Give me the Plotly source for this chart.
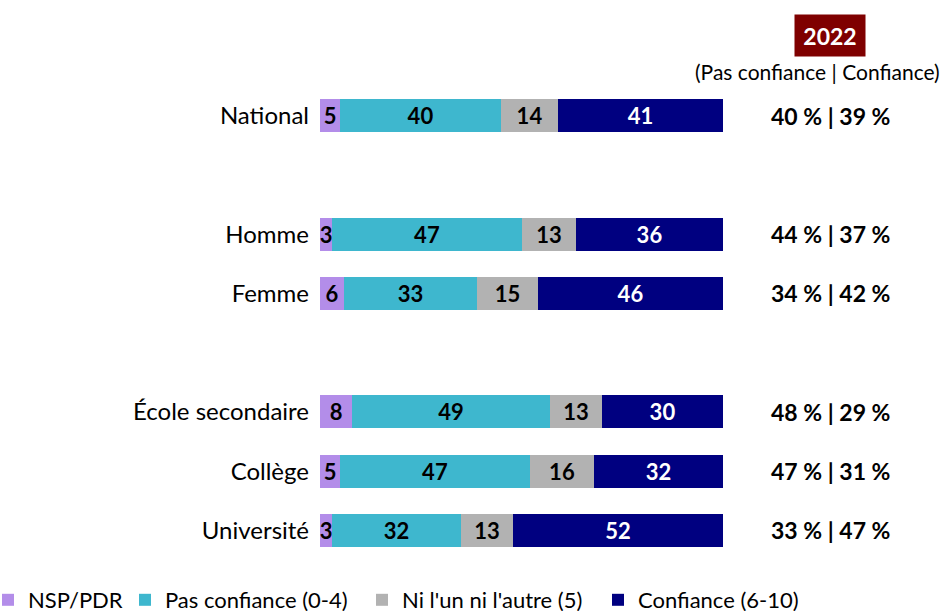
import plotly.graph_objects as go

categories = ["National", "Homme", "Femme", "École secondaire", "Collège", "Université"]
positions = [0, 2, 3, 5, 6, 7]
nsp = [5, 3.0, 6, 8, 5, 3]
pas_confiance = [40, 47.2, 33, 49, 47, 32]
ni = [14, 13.4, 15, 13, 16, 13]
confiance = [41, 36.4, 46, 30, 32, 52]
summary_pas = [40, 44, 34, 48, 47, 33]
summary_conf = [39, 37, 42, 29, 31, 47]

series = [
    ("NSP/PDR", nsp, "#B38DE9", "black"),
    ("Pas confiance (0-4)", pas_confiance, "#3EB7CE", "black"),
    ("Ni l'un ni l'autre (5)", ni, "#B2B2B2", "black"),
    ("Confiance (6-10)", confiance, "#000080", "white"),
]
legend_text_x = [30, 167, 404, 640]

FONT = "Lato, Carlito, Calibri, sans-serif"
L, R, T, B = 320, 220, 86, 51
PW, PH = 943 - L - R, 611 - T - B


def px_x(x):
    return (x - L) / PW


def px_y(y):
    return 1 - (y - T) / PH


fig = go.Figure()
legend_layouts = {}
for i, (name, vals, color, tcolor) in enumerate(series):
    key = "legend" if i == 0 else f"legend{i + 1}"
    fig.add_trace(go.Bar(
        y=positions, x=vals, name=name, orientation="h",
        marker=dict(color=color, line=dict(width=0)),
        width=0.56,
        texttemplate="%{x:.0f}",
        textposition="inside", insidetextanchor="middle",
        constraintext="none", textangle=0,
        textfont=dict(family=FONT, size=22, color=tcolor, weight="bold"),
        cliponaxis=False,
        legend=key,
    ))
    legend_layouts[key] = dict(
        orientation="h", x=px_x(legend_text_x[i] - 42), xanchor="left",
        y=px_y(600), yanchor="middle",
        font=dict(family=FONT, size=22, color="black"),
        itemwidth=30, bgcolor="rgba(0,0,0,0)",
    )

for p, a, b in zip(positions, summary_pas, summary_conf):
    fig.add_annotation(x=px_x(830), xref="paper", y=p, yref="y",
                       xanchor="center", yanchor="middle",
                       text=f"<b>{a} % | {b} %</b>", showarrow=False,
                       font=dict(family=FONT, size=23, color="black"))

fig.add_annotation(x=px_x(830), xref="paper", y=px_y(35), yref="paper",
                   text="<b>2022</b>", showarrow=False, bgcolor="#7F0000",
                   font=dict(family=FONT, size=23, color="white"),
                   borderpad=0, width=70, height=41,
                   xanchor="center", yanchor="middle")
fig.add_annotation(x=px_x(817), xref="paper", y=px_y(72), yref="paper",
                   text="(Pas confiance | Confiance)", showarrow=False,
                   font=dict(family=FONT, size=21, color="black"),
                   xanchor="center", yanchor="middle")

fig.update_layout(
    barmode="stack",
    width=943, height=611,
    margin=dict(l=L, r=R, t=T, b=B, autoexpand=False),
    plot_bgcolor="white", paper_bgcolor="white",
    font=dict(family=FONT, size=22, color="black"),
    xaxis=dict(range=[0, 100], visible=False, fixedrange=True),
    yaxis=dict(range=[7.5, -0.5], tickmode="array", tickvals=positions,
               ticktext=categories, showgrid=False, zeroline=False,
               showline=False, ticks="", ticklabelstandoff=10,
               automargin=False, fixedrange=True,
               tickfont=dict(family=FONT, size=24, color="black")),
    showlegend=True,
    bargap=0,
    **legend_layouts,
)

fig.write_html("out.html", config={"displayModeBar": False},
               post_script="document.body.style.margin='0';document.body.style.overflow='hidden';")
